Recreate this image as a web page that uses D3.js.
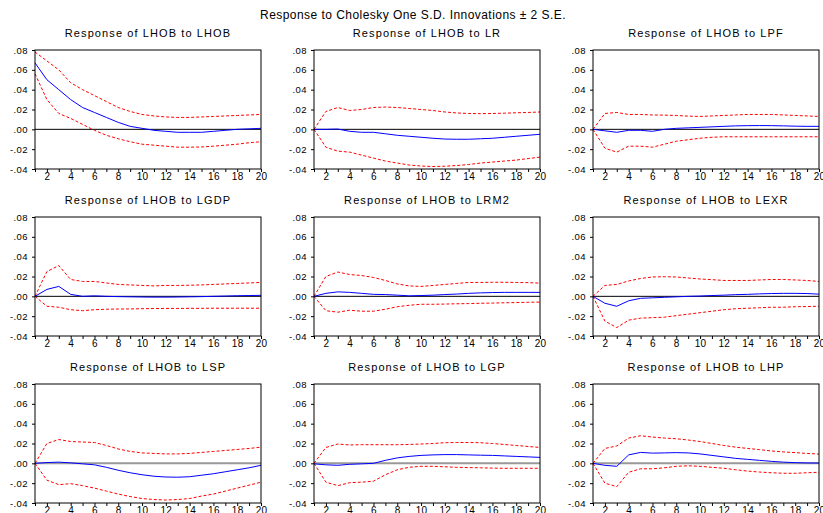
<!DOCTYPE html>
<html><head><meta charset="utf-8">
<script src="https://cdn.jsdelivr.net/npm/d3@7"></script>
<style>
body{margin:0;background:#fff;}
svg{display:block;font-family:"Liberation Sans",Arial,sans-serif;}
</style></head>
<body>
<svg id="chart" width="823" height="513"></svg>
<script>
const mainTitle = "Response to Cholesky One S.D. Innovations \u00b1 2 S.E.";
const horizons = d3.range(1, 21);
const shocks = ["LHOB","LR","LPF","LGDP","LRM2","LEXR","LSP","LGP","LHP"];
const yTicks = [0.08, 0.06, 0.04, 0.02, 0.00, -0.02, -0.04];
const yTickLabels = [".08", ".06", ".04", ".02", ".00", "-.02", "-.04"];
const xTickLabels = [2,4,6,8,10,12,14,16,18,20];

// responses (blue), upper band, lower band for each shock
const respLHOB = [.067,.050,.040,.030,.022,.017,.012,.007,.003,.001,-.001,-.002,-.003,-.003,-.003,-.002,-.001,0,.0005,.001];
const upLHOB   = [.078,.069,.060,.047,.040,.034,.028,.022,.018,.015,.0135,.0125,.012,.012,.0125,.013,.0135,.014,.0145,.015];
const loLHOB   = [.056,.030,.016,.011,.005,-.001,-.006,-.0095,-.0125,-.015,-.016,-.017,-.018,-.018,-.0178,-.017,-.016,-.015,-.0135,-.0125];

const respLR = [0,0,.0003,-.002,-.003,-.003,-.0045,-.006,-.007,-.008,-.009,-.0098,-.010,-.010,-.0095,-.009,-.008,-.007,-.006,-.005];
const upLR   = [0,.018,.022,.019,.020,.022,.0225,.022,.021,.020,.019,.0175,.0165,.016,.0158,.016,.0163,.0167,.017,.0175];
const loLR   = [0,-.018,-.022,-.023,-.026,-.029,-.032,-.034,-.036,-.037,-.0375,-.0372,-.0365,-.0355,-.034,-.033,-.032,-.031,-.0295,-.028];

const respLPF = [0,-.0015,-.003,-.001,-.001,-.002,0,.001,.0015,.002,.0025,.003,.0035,.0037,.0038,.0037,.0035,.0032,.003,.003];
const upLPF   = [0,.016,.017,.015,.015,.0145,.0143,.014,.0133,.013,.0135,.014,.0145,.015,.015,.015,.0145,.014,.0135,.013];
const loLPF   = [0,-.019,-.023,-.017,-.017,-.018,-.015,-.012,-.0105,-.009,-.008,-.0075,-.0075,-.0075,-.0075,-.0075,-.0075,-.0075,-.0075,-.0075];

const respLGDP = [0,.007,.010,.002,0,.0005,0,-.0003,-.0005,-.0007,-.0008,-.0008,-.0007,-.0005,-.0003,0,.0003,.0006,.0008,.001];
const upLGDP   = [0,.025,.031,.017,.015,.015,.0135,.012,.0115,.011,.0105,.011,.011,.0112,.0115,.012,.0125,.013,.0135,.014];
const loLGDP   = [0,-.010,-.011,-.0135,-.0145,-.0135,-.013,-.0128,-.0127,-.0125,-.0123,-.0122,-.0122,-.0121,-.0121,-.012,-.012,-.012,-.012,-.012];

const respLRM2 = [0,.003,.0045,.004,.003,.002,.0018,.0012,.0005,.0008,.0012,.0018,.0023,.003,.0035,.0038,.004,.004,.004,.004];
const upLRM2   = [0,.020,.0245,.022,.021,.019,.016,.0125,.0105,.010,.011,.012,.013,.014,.014,.0142,.0142,.014,.0138,.0133];
const loLRM2   = [0,-.0145,-.016,-.014,-.015,-.015,-.013,-.0105,-.009,-.008,-.008,-.0078,-.0075,-.0073,-.007,-.0068,-.0065,-.0063,-.006,-.0058];

const respLEXR = [0,-.007,-.010,-.0045,-.002,-.0015,-.001,-.0005,0,.0003,.0008,.0012,.0017,.002,.0025,.0028,.003,.003,.0028,.0022];
const upLEXR   = [0,.011,.012,.0155,.018,.0195,.0198,.0195,.0185,.0175,.0168,.016,.016,.016,.0165,.017,.017,.0165,.016,.015];
const loLEXR   = [0,-.025,-.0315,-.024,-.022,-.0215,-.021,-.0195,-.018,-.0165,-.015,-.0135,-.0125,-.012,-.0115,-.011,-.011,-.0105,-.0103,-.010];

const respLSP = [0,.0008,.0012,.0005,-.0005,-.0015,-.004,-.007,-.0095,-.0115,-.013,-.0138,-.014,-.0135,-.012,-.0105,-.0085,-.0065,-.0045,-.002];
const upLSP   = [0,.020,.024,.022,.0215,.021,.018,.0145,.012,.0105,.010,.0095,.0095,.010,.011,.012,.013,.014,.015,.0163];
const loLSP   = [0,-.017,-.0215,-.0205,-.0225,-.025,-.028,-.031,-.0335,-.0355,-.0365,-.037,-.0365,-.0355,-.033,-.031,-.028,-.025,-.022,-.019];

const respLGP = [-.0005,-.0015,-.002,-.001,-.0005,0,.003,.0055,.007,.008,.0085,.0088,.0088,.0085,.0082,.008,.0075,.007,.0065,.006];
const upLGP   = [0,.016,.0195,.0185,.0188,.0188,.0188,.0188,.019,.0195,.020,.0208,.021,.021,.0208,.020,.019,.018,.017,.016];
const loLGP   = [0,-.019,-.0225,-.0195,-.019,-.018,-.0115,-.0065,-.004,-.003,-.003,-.0035,-.004,-.0043,-.0045,-.0048,-.005,-.005,-.005,-.005];

const respLHP = [0,-.002,-.003,.0085,.011,.0103,.0105,.0108,.0105,.0095,.008,.0065,.005,.004,.003,.002,.0012,.0007,.0004,.0003];
const upLHP   = [0,.015,.0175,.0255,.0278,.0265,.0255,.0248,.0235,.022,.020,.018,.0163,.015,.0138,.0125,.0115,.0108,.010,.0093];
const loLHP   = [0,-.020,-.0235,-.009,-.0055,-.0055,-.0045,-.003,-.0025,-.003,-.004,-.005,-.0065,-.0078,-.0088,-.0095,-.010,-.010,-.0095,-.009];

const responses = [respLHOB,respLR,respLPF,respLGDP,respLRM2,respLEXR,respLSP,respLGP,respLHP];
const uppers = [upLHOB,upLR,upLPF,upLGDP,upLRM2,upLEXR,upLSP,upLGP,upLHP];
const lowers = [loLHOB,loLR,loLPF,loLGDP,loLRM2,loLEXR,loLSP,loLGP,loLHP];

const svg = d3.select("#chart");
svg.append("text").attr("x", 413).attr("y", 19).attr("text-anchor","middle")
  .attr("font-size", 12).attr("letter-spacing","0.45px").attr("fill","#000").text(mainTitle);

const colLeft = [35, 314, 593], rowTop = [50, 217, 384];
const W = 226, H = 119;

shocks.forEach((s, i) => {
  const r = Math.floor(i/3), c = i%3;
  const g = svg.append("g").attr("transform", `translate(${colLeft[c]},${rowTop[r]})`);
  const x = d3.scaleLinear().domain([1,20]).range([0,W]);
  const y = d3.scaleLinear().domain([-0.04,0.08]).range([H,0]);

  g.append("text").attr("x", W/2).attr("y", -13).attr("text-anchor","middle")
    .attr("font-size", 11).attr("letter-spacing","1.1px").attr("fill","#000")
    .text(`Response of LHOB to ${s}`);

  // zero line
  g.append("line").attr("x1",0).attr("x2",W).attr("y1",y(0)).attr("y2",y(0))
    .attr("stroke", r===2 ? "#999" : "#000").attr("stroke-width", r===2 ? 2 : 1);

  const line = d3.line().x((d,k)=>x(horizons[k])).y(d=>y(d));
  g.append("path").datum(uppers[i]).attr("d", line).attr("fill","none")
    .attr("stroke","#ff0000").attr("stroke-width",1).attr("stroke-dasharray","3,2");
  g.append("path").datum(lowers[i]).attr("d", line).attr("fill","none")
    .attr("stroke","#ff0000").attr("stroke-width",1).attr("stroke-dasharray","3,2");
  g.append("path").datum(responses[i]).attr("d", line).attr("fill","none")
    .attr("stroke","#0000ff").attr("stroke-width",1);

  // frame
  g.append("rect").attr("x",0).attr("y",0).attr("width",W).attr("height",H)
    .attr("fill","none").attr("stroke","#000").attr("stroke-width",1);

  // y axis
  const ya = d3.axisLeft(y).tickValues(yTicks).tickSize(3)
    .tickFormat((d,k)=>yTickLabels[k]);
  const yg = g.append("g").call(ya);
  yg.select(".domain").remove();
  yg.selectAll("text").attr("font-size",9.5).attr("font-family","Liberation Sans, Arial, sans-serif")
    .attr("fill","#000").attr("letter-spacing","0.4px").attr("dx","-1");

  // x axis
  const xa = d3.axisBottom(x).tickValues(horizons).tickSize(3)
    .tickFormat(d => xTickLabels.includes(d) ? d : "");
  const xg = g.append("g").attr("transform",`translate(0,${H})`).call(xa);
  xg.select(".domain").remove();
  xg.selectAll("text").attr("font-size",10).attr("font-family","Liberation Sans, Arial, sans-serif")
    .attr("fill","#000").attr("dy","0.5em").attr("letter-spacing","0.3px");
});
</script>
</body></html>
